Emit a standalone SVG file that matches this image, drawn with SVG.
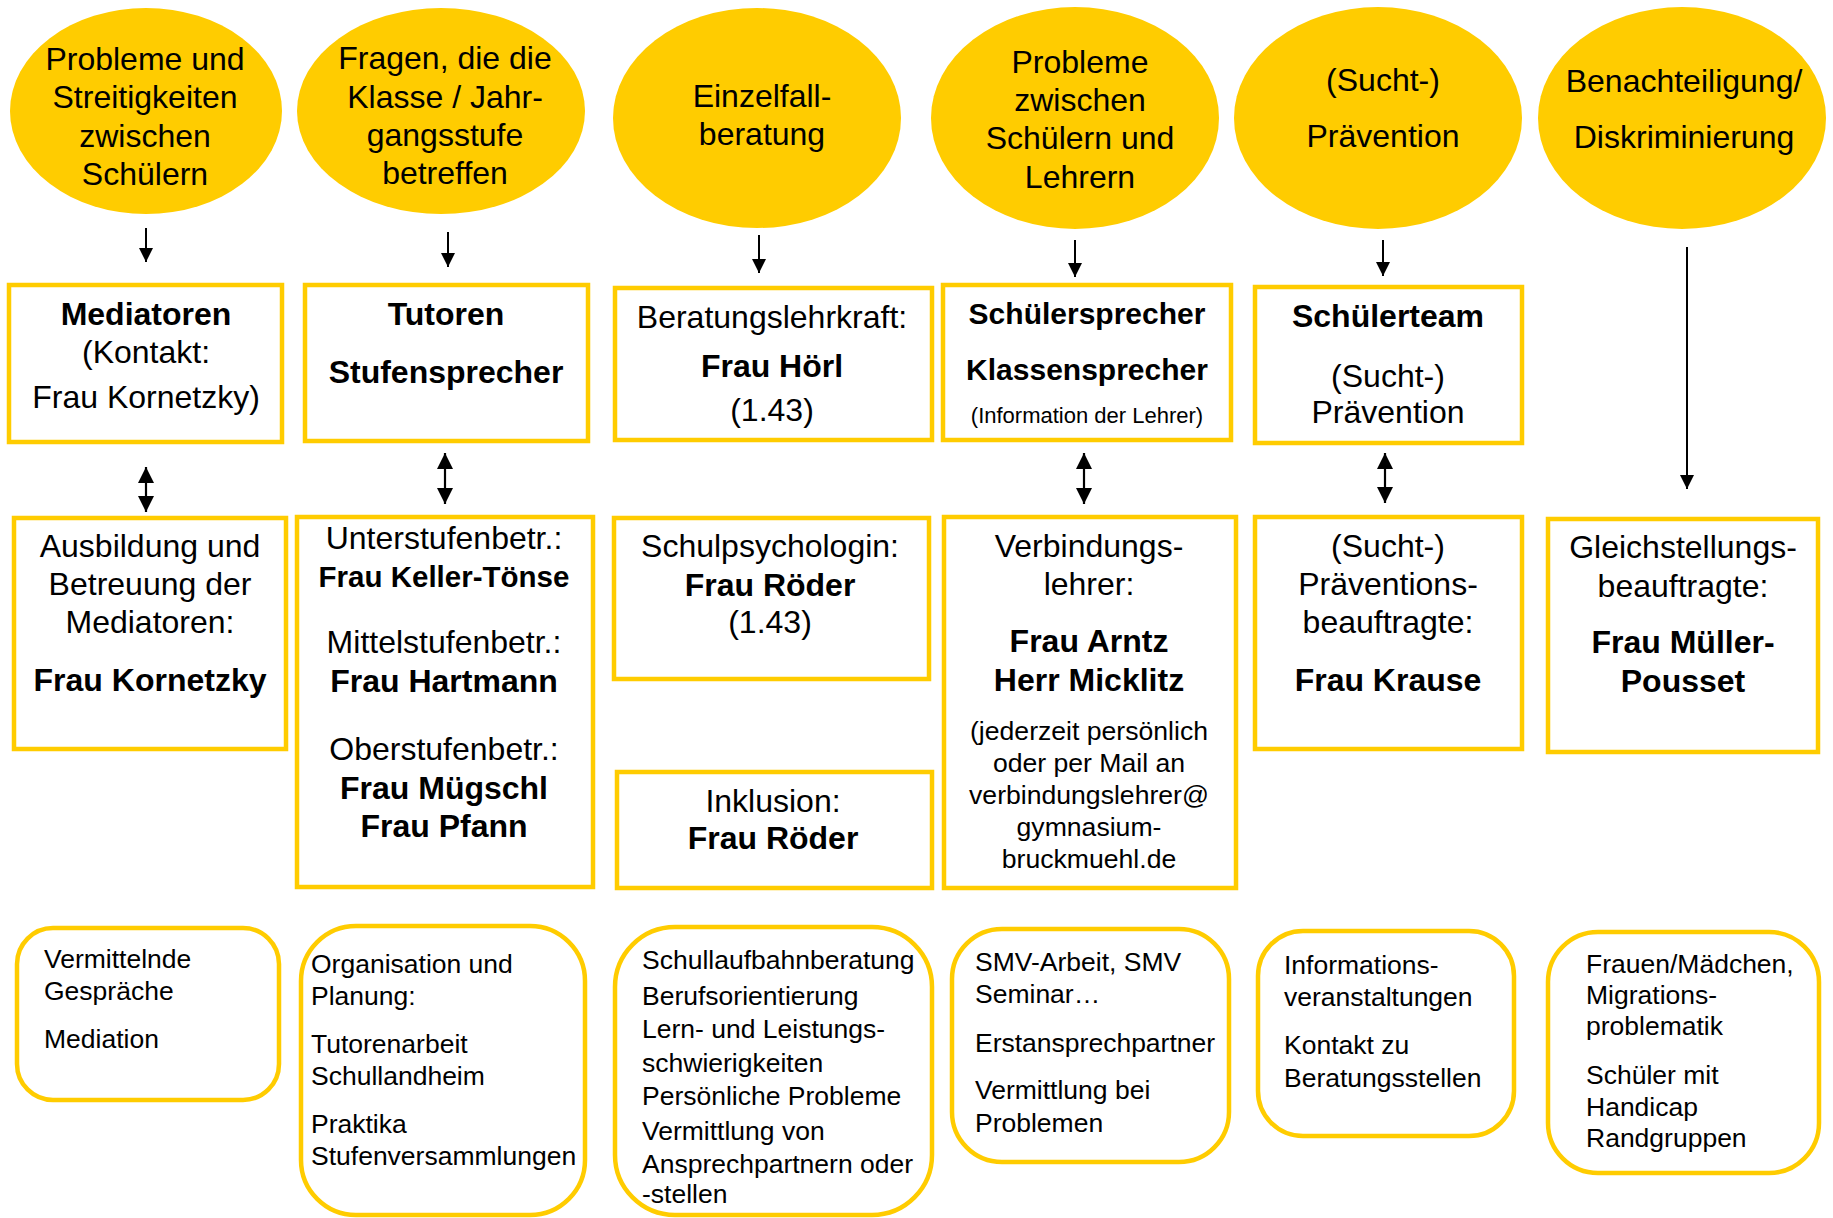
<svg xmlns="http://www.w3.org/2000/svg" width="1833" height="1218" viewBox="0 0 1833 1218">
<defs>
<style>
text{font-family:"Liberation Sans",Arial,sans-serif;fill:#000}
.t{font-size:32px;text-anchor:middle}
.b{font-weight:bold}
.s{font-size:26.6px;text-anchor:middle}
.l{font-size:26.5px}
.ell{fill:#FFCC00}
.box{fill:#fff;stroke:#FFCC00;stroke-width:4.5}
.rbox{fill:#fff;stroke:#FFCC00;stroke-width:4.5}
.ar{stroke:#000;stroke-width:2;fill:none;marker-end:url(#ah)}
.dar{stroke:#000;stroke-width:2.2;fill:none;marker-end:url(#ah2);marker-start:url(#ah2)}
</style>
<marker id="ah" markerUnits="userSpaceOnUse" markerWidth="14" markerHeight="14" refX="14" refY="7" orient="auto"><path d="M0,0 L14,7 L0,14 z" fill="#000"/></marker>
<marker id="ah2" markerUnits="userSpaceOnUse" markerWidth="16" markerHeight="16" refX="16" refY="8" orient="auto-start-reverse"><path d="M0,0 L16,8 L0,16 z" fill="#000"/></marker>
</defs>
<rect width="1833" height="1218" fill="#fff"/>

<g id="connectors">
<line class="ar" x1="146" y1="228" x2="146" y2="262"/>
<line class="ar" x1="448" y1="232" x2="448" y2="267"/>
<line class="ar" x1="759" y1="235" x2="759" y2="273"/>
<line class="ar" x1="1075" y1="240" x2="1075" y2="277"/>
<line class="ar" x1="1383" y1="240" x2="1383" y2="276"/>
<line class="ar" x1="1687" y1="247" x2="1687" y2="489"/>
<line class="dar" x1="146" y1="467" x2="146" y2="512"/>
<line class="dar" x1="445" y1="453" x2="445" y2="504"/>
<line class="dar" x1="1084" y1="453" x2="1084" y2="504"/>
<line class="dar" x1="1385" y1="453" x2="1385" y2="503"/>
</g>

<g id="e1"><ellipse class="ell" cx="146" cy="111" rx="136" ry="103"/>
<text class="t" x="145" y="70">Probleme und</text><text class="t" x="145" y="108">Streitigkeiten</text><text class="t" x="145" y="147">zwischen</text><text class="t" x="145" y="185">Schülern</text></g>
<g id="e2"><ellipse class="ell" cx="441" cy="111" rx="144" ry="103"/>
<text class="t" x="445" y="69">Fragen, die die</text><text class="t" x="445" y="108">Klasse / Jahr-</text><text class="t" x="445" y="146">gangsstufe</text><text class="t" x="445" y="184">betreffen</text></g>
<g id="e3"><ellipse class="ell" cx="757" cy="118" rx="144" ry="110"/>
<text class="t" x="762" y="107">Einzelfall-</text><text class="t" x="762" y="145">beratung</text></g>
<g id="e4"><ellipse class="ell" cx="1075" cy="118" rx="144" ry="111"/>
<text class="t" x="1080" y="73">Probleme</text><text class="t" x="1080" y="111">zwischen</text><text class="t" x="1080" y="149">Schülern und</text><text class="t" x="1080" y="188">Lehrern</text></g>
<g id="e5"><ellipse class="ell" cx="1378" cy="118" rx="144" ry="111"/>
<text class="t" x="1383" y="91">(Sucht-)</text><text class="t" x="1383" y="147">Prävention</text></g>
<g id="e6"><ellipse class="ell" cx="1682" cy="118" rx="144" ry="111"/>
<text class="t" x="1684" y="92">Benachteiligung/</text><text class="t" x="1684" y="148">Diskriminierung</text></g>

<g id="b1"><rect class="box" x="9" y="285" width="273" height="157"/>
<text class="t b" x="146" y="325">Mediatoren</text><text class="t" x="146" y="363">(Kontakt:</text><text class="t" x="146" y="408">Frau Kornetzky)</text></g>
<g id="b2"><rect class="box" x="305" y="285" width="283" height="156"/>
<text class="t b" x="446" y="325">Tutoren</text><text class="t b" x="446" y="383">Stufensprecher</text></g>
<g id="b3"><rect class="box" x="615" y="288" width="317" height="152"/>
<text class="t" x="772" y="328">Beratungslehrkraft:</text><text class="t b" x="772" y="377">Frau Hörl</text><text class="t" x="772" y="421">(1.43)</text></g>
<g id="b4"><rect class="box" x="943" y="285" width="288" height="155"/>
<text class="t b" x="1087" y="324" style="font-size:30px">Schülersprecher</text><text class="t b" x="1087" y="380" style="font-size:30px">Klassensprecher</text><text x="1087" y="423" style="font-size:22px;text-anchor:middle">(Information der Lehrer)</text></g>
<g id="b5"><rect class="box" x="1255" y="287" width="267" height="156"/>
<text class="t b" x="1388" y="327">Schülerteam</text><text class="t" x="1388" y="387">(Sucht-)</text><text class="t" x="1388" y="423">Prävention</text></g>

<g id="c1"><rect class="box" x="14" y="518" width="272" height="231"/>
<text class="t" x="150" y="557">Ausbildung und</text><text class="t" x="150" y="595">Betreuung der</text><text class="t" x="150" y="633">Mediatoren:</text><text class="t b" x="150" y="691">Frau Kornetzky</text></g>
<g id="c2"><rect class="box" x="297" y="517" width="296" height="370"/>
<text class="t" x="444" y="549">Unterstufenbetr.:</text><text class="t b" x="444" y="587" style="font-size:29.5px">Frau Keller-Tönse</text>
<text class="t" x="444" y="653">Mittelstufenbetr.:</text><text class="t b" x="444" y="692">Frau Hartmann</text>
<text class="t" x="444" y="760">Oberstufenbetr.:</text><text class="t b" x="444" y="799">Frau Mügschl</text><text class="t b" x="444" y="837">Frau Pfann</text></g>
<g id="c3"><rect class="box" x="614" y="518" width="315" height="161"/>
<text class="t" x="770" y="557">Schulpsychologin:</text><text class="t b" x="770" y="596">Frau Röder</text><text class="t" x="770" y="633">(1.43)</text></g>
<g id="c3b"><rect class="box" x="617" y="772" width="315" height="116"/>
<text class="t" x="773" y="812">Inklusion:</text><text class="t b" x="773" y="849">Frau Röder</text></g>
<g id="c4"><rect class="box" x="944" y="517" width="292" height="371"/>
<text class="t" x="1089" y="557">Verbindungs-</text><text class="t" x="1089" y="595">lehrer:</text>
<text class="t b" x="1089" y="652">Frau Arntz</text><text class="t b" x="1089" y="691">Herr Micklitz</text>
<text class="s" x="1089" y="740">(jederzeit persönlich</text><text class="s" x="1089" y="772">oder per Mail an</text><text class="s" x="1089" y="804">verbindungslehrer@</text><text class="s" x="1089" y="836">gymnasium-</text><text class="s" x="1089" y="868">bruckmuehl.de</text></g>
<g id="c5"><rect class="box" x="1255" y="517" width="267" height="232"/>
<text class="t" x="1388" y="557">(Sucht-)</text><text class="t" x="1388" y="595">Präventions-</text><text class="t" x="1388" y="633">beauftragte:</text><text class="t b" x="1388" y="691">Frau Krause</text></g>
<g id="c6"><rect class="box" x="1548" y="519" width="270" height="233"/>
<text class="t" x="1683" y="558">Gleichstellungs-</text><text class="t" x="1683" y="597">beauftragte:</text><text class="t b" x="1683" y="653">Frau Müller-</text><text class="t b" x="1683" y="692">Pousset</text></g>

<g id="r1"><rect class="rbox" x="17" y="928" width="262" height="172" rx="36"/>
<text class="l" x="44" y="968">Vermittelnde</text><text class="l" x="44" y="1000">Gespräche</text><text class="l" x="44" y="1048">Mediation</text></g>
<g id="r2"><rect class="rbox" x="301" y="926" width="284" height="289" rx="55"/>
<text class="l" x="311" y="973">Organisation und</text><text class="l" x="311" y="1005">Planung:</text><text class="l" x="311" y="1053">Tutorenarbeit</text><text class="l" x="311" y="1085">Schullandheim</text><text class="l" x="311" y="1133">Praktika</text><text class="l" x="311" y="1165">Stufenversammlungen</text></g>
<g id="r3"><rect class="rbox" x="615" y="927" width="317" height="288" rx="60"/>
<text class="l" x="642" y="969">Schullaufbahnberatung</text><text class="l" x="642" y="1005">Berufsorientierung</text><text class="l" x="642" y="1038">Lern- und Leistungs-</text><text class="l" x="642" y="1072">schwierigkeiten</text><text class="l" x="642" y="1105">Persönliche Probleme</text><text class="l" x="642" y="1140">Vermittlung von</text><text class="l" x="642" y="1173">Ansprechpartnern oder</text><text class="l" x="642" y="1203">-stellen</text></g>
<g id="r4"><rect class="rbox" x="952" y="929" width="277" height="233" rx="50"/>
<text class="l" x="975" y="971">SMV-Arbeit, SMV</text><text class="l" x="975" y="1003">Seminar…</text><text class="l" x="975" y="1052">Erstansprechpartner</text><text class="l" x="975" y="1099">Vermittlung bei</text><text class="l" x="975" y="1132">Problemen</text></g>
<g id="r5"><rect class="rbox" x="1258" y="931" width="256" height="205" rx="45"/>
<text class="l" x="1284" y="974">Informations-</text><text class="l" x="1284" y="1006">veranstaltungen</text><text class="l" x="1284" y="1054">Kontakt zu</text><text class="l" x="1284" y="1087">Beratungsstellen</text></g>
<g id="r6"><rect class="rbox" x="1548" y="932" width="271" height="241" rx="50"/>
<text class="l" x="1586" y="973">Frauen/Mädchen,</text><text class="l" x="1586" y="1004">Migrations-</text><text class="l" x="1586" y="1035">problematik</text><text class="l" x="1586" y="1084">Schüler mit</text><text class="l" x="1586" y="1116">Handicap</text><text class="l" x="1586" y="1147">Randgruppen</text></g>
</svg>
